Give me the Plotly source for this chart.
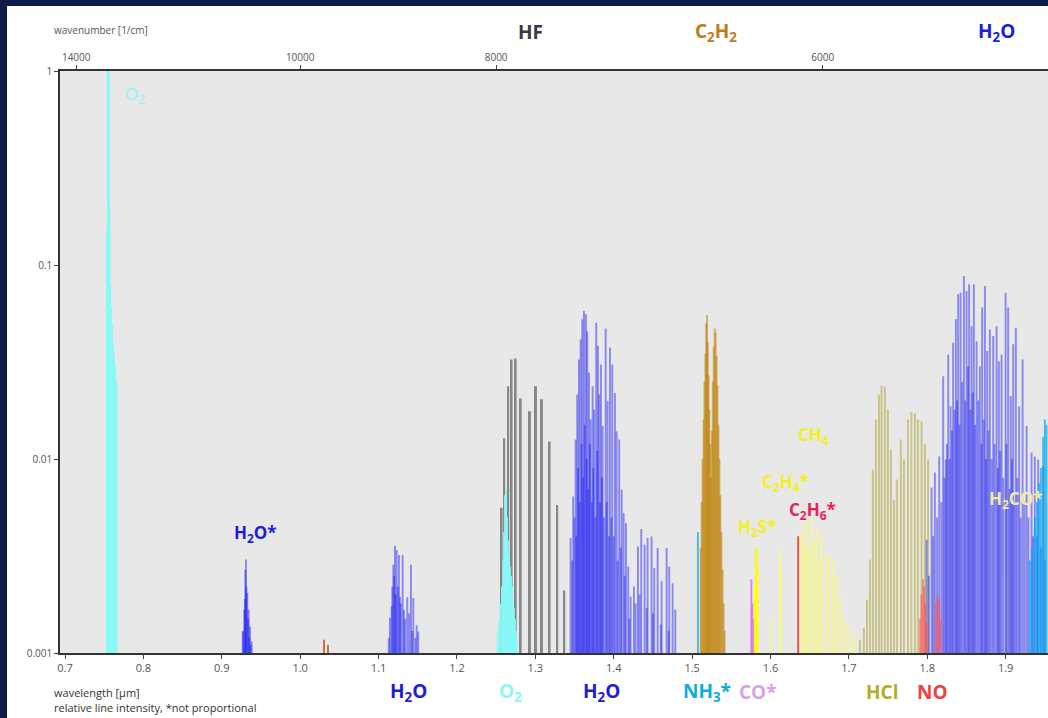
import plotly.graph_objects as go

# ---------------- data (wavelength in µm, relative line intensity) ----------------
o2a_wl = [0.7545, 0.7553, 0.7560, 0.7568, 0.7577, 0.7587, 0.7598, 0.7610, 0.7624, 0.7640, 0.7655]
o2a_int = [0.15, 1.3, 1.2, 0.2, 0.08, 0.06, 0.05, 0.04, 0.035, 0.03, 0.025]

h2o_a_wl = [0.9267, 0.9275, 0.9287, 0.9295, 0.9300, 0.9309, 0.9315, 0.9325, 0.9335, 0.9343, 0.9350, 0.9360, 0.9370, 0.9381]
h2o_a_int = [0.00129, 0.0013, 0.00167, 0.0019, 0.00269, 0.00303, 0.0022, 0.00204, 0.0015, 0.00167, 0.0012, 0.00137, 0.0011, 0.00115]

misc_wl = [1.0304, 1.0355]
misc_int = [0.00117, 0.0011]

h2o_b_wl = [1.1130, 1.1145, 1.1167, 1.1175, 1.1188, 1.1200, 1.1209, 1.1220, 1.1231, 1.1245, 1.1260, 1.1273,
            1.1285, 1.1307, 1.1324, 1.1340, 1.1366, 1.1390, 1.1413, 1.1430, 1.1443, 1.1470, 1.1486, 1.1506]
h2o_b_int = [0.0012, 0.00152, 0.00174, 0.0022, 0.00285, 0.0025, 0.00357, 0.002, 0.0034, 0.0022, 0.0032, 0.00195,
             0.0018, 0.0032, 0.00167, 0.0015, 0.00194, 0.0016, 0.00285, 0.0013, 0.00192, 0.0012, 0.00139, 0.00129]

hf_wl = [1.2570, 1.2603, 1.2654, 1.2697, 1.2749, 1.2813, 1.2931, 1.3008, 1.3084, 1.3182, 1.3279, 1.3369]
hf_int = [0.0056, 0.0128, 0.0237, 0.0326, 0.0330, 0.0205, 0.0176, 0.0237, 0.0203, 0.0123, 0.0058, 0.0021]

o2b_wl = [1.2523, 1.2540, 1.2556, 1.2574, 1.2590, 1.2600, 1.2612, 1.2625, 1.2638, 1.2651, 1.2664, 1.2676,
          1.2690, 1.2702, 1.2715, 1.2727, 1.2740, 1.2753, 1.2766]
o2b_int = [0.0013, 0.0015, 0.0018, 0.0022, 0.0030, 0.0042, 0.0065, 0.0070, 0.0050, 0.0038, 0.0032, 0.0028,
           0.0025, 0.0022, 0.0019, 0.0017, 0.0015, 0.0013, 0.0012]

h2o_c_wl = [1.3450, 1.3470, 1.3483, 1.3500, 1.3514, 1.3525, 1.3534, 1.3545, 1.3556, 1.3567, 1.3578, 1.3590,
            1.3598, 1.3610, 1.3620, 1.3630, 1.3645, 1.3655, 1.3662, 1.3675, 1.3684, 1.3695, 1.3705, 1.3720,
            1.3731, 1.3740, 1.3751, 1.3765, 1.3777, 1.3790, 1.3798, 1.3815, 1.3825, 1.3837, 1.3850, 1.3858,
            1.3875, 1.3897, 1.3910, 1.3922, 1.3940, 1.3952, 1.3970, 1.3981, 1.4000, 1.4015, 1.4037, 1.4050,
            1.4070, 1.4090, 1.4101, 1.4126, 1.4140, 1.4156, 1.4185, 1.4200, 1.4216, 1.4258, 1.4280, 1.4309,
            1.4330, 1.4351, 1.4394, 1.4420, 1.4432, 1.4483, 1.4500, 1.4517, 1.4560, 1.4600, 1.4611, 1.4675,
            1.4700, 1.4708, 1.4751, 1.4785]
h2o_c_int = [0.00392, 0.003, 0.00641, 0.005, 0.0126, 0.004, 0.0215, 0.009, 0.0326, 0.006, 0.0413, 0.012,
             0.0525, 0.008, 0.0579, 0.015, 0.0557, 0.010, 0.0456, 0.007, 0.0278, 0.012, 0.0160, 0.006,
             0.0237, 0.009, 0.0180, 0.005, 0.0504, 0.011, 0.0382, 0.0215, 0.006, 0.0307, 0.008, 0.0148,
             0.005, 0.0470, 0.006, 0.0199, 0.004, 0.0375, 0.005, 0.0307, 0.004, 0.0219, 0.0139, 0.003,
             0.0126, 0.0035, 0.00695, 0.00527, 0.0025, 0.00468, 0.00279, 0.0015, 0.00195, 0.0022, 0.0018, 0.00354,
             0.002, 0.00436, 0.00361, 0.0017, 0.00392, 0.00399, 0.0016, 0.00274, 0.00348, 0.0014, 0.00234, 0.00348,
             0.0013, 0.00279, 0.00229, 0.00167]

c2h2_wl = [1.5110, 1.5122, 1.5134, 1.5146, 1.5158, 1.5170, 1.5180, 1.5190, 1.5200, 1.5210, 1.5220, 1.5230,
           1.5240, 1.5252, 1.5264, 1.5276, 1.5288, 1.5300, 1.5312, 1.5324, 1.5336, 1.5348, 1.5360, 1.5374,
           1.5388, 1.5402, 1.5416]
c2h2_int = [0.0035, 0.006, 0.010, 0.016, 0.025, 0.035, 0.050, 0.055, 0.040, 0.027, 0.018, 0.012,
            0.008, 0.014, 0.025, 0.038, 0.047, 0.045, 0.034, 0.024, 0.015, 0.010, 0.0065, 0.0042,
            0.0027, 0.0018, 0.0013]

nh3_wl = [1.5074, 1.9309, 1.9335, 1.9372, 1.9400, 1.9427, 1.9450, 1.9478, 1.9500, 1.9521]
nh3_int = [0.0042, 0.003, 0.0035, 0.005, 0.006, 0.0075, 0.009, 0.013, 0.016, 0.015]

co_wl = [1.5755, 1.5768, 1.5785]
co_int = [0.0024, 0.0018, 0.0015]

h2s_wl = [1.5800, 1.5815, 1.5823, 1.5832]
h2s_int = [0.0022, 0.0035, 0.0034, 0.0028]

ch4_wl = [1.6000, 1.6120, 1.6135, 1.6375, 1.6417, 1.6440, 1.6460, 1.6505, 1.6524, 1.6565, 1.6588,
          1.6630, 1.6652, 1.6716, 1.6760, 1.6800, 1.6843, 1.6885, 1.6930, 1.6980, 1.7030, 1.7080, 1.9032]
ch4_int = [0.0015, 0.0034, 0.0028, 0.00417, 0.00449, 0.0036, 0.00468, 0.0035, 0.00506, 0.0038, 0.00442,
           0.0030, 0.00399, 0.00329, 0.00315, 0.00297, 0.00248, 0.00195, 0.0016, 0.0014, 0.0013, 0.0012, 0.00259]

c2h6_wl = [1.6353]
c2h6_int = [0.0040]

hcl_wl = [1.7140, 1.7191, 1.7230, 1.7268, 1.7306, 1.7344, 1.7383, 1.7417, 1.7459, 1.7497, 1.7536, 1.7574,
          1.7612, 1.7663, 1.7702, 1.7753, 1.7797, 1.7842, 1.7880, 1.7927, 1.7969, 1.8011]
hcl_int = [0.00117, 0.00135, 0.00188, 0.00303, 0.00881, 0.0160, 0.0215, 0.0239, 0.0236, 0.0180, 0.0112, 0.00617,
           0.00783, 0.0126, 0.00993, 0.0160, 0.0174, 0.0172, 0.0160, 0.0156, 0.0119, 0.00993]

h2o_d_wl = [1.7991, 1.8020, 1.8055, 1.8075, 1.8097, 1.8125, 1.8152, 1.8180, 1.8203, 1.8220, 1.8237, 1.8250,
            1.8267, 1.8285, 1.8297, 1.8315, 1.8330, 1.8350, 1.8365, 1.8380, 1.8394, 1.8410, 1.8425, 1.8445,
            1.8467, 1.8485, 1.8501, 1.8520, 1.8534, 1.8550, 1.8565, 1.8580, 1.8594, 1.8610, 1.8629, 1.8650,
            1.8671, 1.8690, 1.8700, 1.8720, 1.8735, 1.8750, 1.8764, 1.8780, 1.8798, 1.8820, 1.8841, 1.8860,
            1.8884, 1.8900, 1.8913, 1.8930, 1.8948, 1.8970, 1.8999, 1.9010, 1.9032, 1.9050, 1.9066, 1.9080,
            1.9096, 1.9110, 1.9130, 1.9150, 1.9172, 1.9190, 1.9216, 1.9240, 1.9267, 1.9290, 1.9330, 1.9350,
            1.9372, 1.9400, 1.9415, 1.9450, 1.9478, 1.9500]
h2o_d_int = [0.00384, 0.0025, 0.00712, 0.004, 0.00851, 0.005, 0.0103, 0.006, 0.0267, 0.008, 0.00993, 0.012,
             0.0346, 0.010, 0.0187, 0.014, 0.0397, 0.018, 0.0525, 0.020, 0.0706, 0.015, 0.0720, 0.025,
             0.0877, 0.020, 0.0734, 0.030, 0.0795, 0.018, 0.0484, 0.022, 0.0795, 0.015, 0.0405, 0.020,
             0.0301, 0.012, 0.0603, 0.016, 0.0779, 0.010, 0.0360, 0.014, 0.0466, 0.010, 0.0430, 0.012,
             0.0484, 0.009, 0.0319, 0.011, 0.0346, 0.008, 0.0720, 0.012, 0.0603, 0.007, 0.0211, 0.010,
             0.0390, 0.006, 0.0475, 0.008, 0.0187, 0.005, 0.0326, 0.006, 0.0148, 0.005, 0.0108, 0.004,
             0.0103, 0.004, 0.00993, 0.0035, 0.00917, 0.003]

no_wl = [1.7905, 1.7925, 1.7945, 1.7960, 1.7975, 1.7990, 1.8110, 1.8130, 1.8150, 1.8170]
no_int = [0.0015, 0.0020, 0.0024, 0.0022, 0.0018, 0.0014, 0.0018, 0.0020, 0.0019, 0.0015]

x_ticks = [0.7, 0.8, 0.9, 1.0, 1.1, 1.2, 1.3, 1.4, 1.5, 1.6, 1.7, 1.8, 1.9]
x_ticktext = ["0.7", "0.8", "0.9", "1.0", "1.1", "1.2", "1.3", "1.4", "1.5", "1.6", "1.7", "1.8", "1.9"]
wn_ticks = [14000, 10000, 8000, 6000]
y_ticks = [0.001, 0.01, 0.1, 1]
y_ticktext = ["0.001", "0.01", "0.1", "1"]

# ---------------- figure ----------------
W, H = 1048, 718
ML, MR, MT, MB = 60, 0, 71, 65
PW, PH = W - ML - MR, H - MT - MB


def pp(px, py):
    return (px - ML) / PW, (H - MB - py) / PH


BAR_W = 0.0025
series = [
    (hf_wl, hf_int, "rgba(135,135,135,1)", "x"),
    (hcl_wl, hcl_int, "rgba(170,160,40,0.5)", "x"),
    (ch4_wl, ch4_int, "rgba(255,255,90,0.55)", "x"),
    (h2o_a_wl, h2o_a_int, "rgba(25,25,245,0.45)", "x"),
    (h2o_b_wl, h2o_b_int, "rgba(25,25,245,0.45)", "x"),
    (h2o_c_wl, h2o_c_int, "rgba(25,25,245,0.45)", "x"),
    (h2o_d_wl, h2o_d_int, "rgba(25,25,245,0.45)", "x"),
    (o2a_wl, o2a_int, "rgba(135,250,248,1)", "x"),
    (o2b_wl, o2b_int, "rgba(135,250,248,0.9)", "x"),
    (c2h2_wl, c2h2_int, "rgba(190,125,0,0.55)", "x"),
    (nh3_wl, nh3_int, "rgba(0,170,240,0.7)", "x"),
    (co_wl, co_int, "rgba(220,120,235,0.85)", "x"),
    (h2s_wl, h2s_int, "rgba(255,255,0,0.9)", "x"),
    (c2h6_wl, c2h6_int, "rgba(230,50,80,0.85)", "x"),
    (no_wl, no_int, "rgba(255,80,80,0.55)", "x"),
    (misc_wl, misc_int, "rgba(200,100,50,0.9)", "x2"),
]

fig = go.Figure()
for wl, inten, col, xa in series:
    fig.add_trace(go.Bar(x=wl, y=inten, width=BAR_W, xaxis=xa,
                         marker=dict(color=col, line=dict(width=0)),
                         hoverinfo="skip", showlegend=False))

XR = [0.6936, 1.954]
FONT = "Open Sans, Lato, sans-serif"
fig.update_layout(
    width=W, height=H, margin=dict(l=ML, r=MR, t=MT, b=MB),
    paper_bgcolor="white", plot_bgcolor="#e8e8e8",
    barmode="overlay", showlegend=False,
    font=dict(family=FONT, color="#444"),
    xaxis=dict(range=XR, tickvals=x_ticks, ticktext=x_ticktext, ticks="outside", ticklen=4,
               tickcolor="#444", showline=True, linecolor="#333", linewidth=1.5, showgrid=False,
               zeroline=False, tickfont=dict(size=11, color="#555")),
    xaxis2=dict(range=XR, overlaying="x", side="top", anchor="y",
                tickvals=[1e4 / w for w in wn_ticks], ticktext=[str(w) for w in wn_ticks],
                ticks="outside", ticklen=4, tickcolor="#444", showline=True, linecolor="#333",
                linewidth=1.5, showgrid=False, zeroline=False, tickfont=dict(size=10, color="#555")),
    yaxis=dict(type="log", range=[-3, 0], tickvals=y_ticks, ticktext=y_ticktext, ticks="outside",
               ticklen=4, tickcolor="#444", showline=True, linecolor="#333", linewidth=1.5,
               showgrid=False, zeroline=False, tickfont=dict(size=10, color="#555")),
)

NAVY = "#101b48"
x0, _ = pp(0, 0)
x7, _ = pp(7, 0)
_, ytop = pp(0, 0)
_, ytop6 = pp(0, 6)
_, ybot = pp(0, H)
fig.add_shape(type="rect", xref="paper", yref="paper", x0=x0, x1=x7, y0=ybot, y1=ytop,
              fillcolor=NAVY, line=dict(width=0), layer="above")
fig.add_shape(type="rect", xref="paper", yref="paper", x0=x0, x1=1.01, y0=ytop6, y1=ytop,
              fillcolor=NAVY, line=dict(width=0), layer="above")


def label(text, px, py, color, size=19, bold=True, anchor="center"):
    x, y = pp(px, py)
    fig.add_annotation(text=("<b>%s</b>" % text) if bold else text, x=x, y=y, xref="paper", yref="paper",
                       showarrow=False, xanchor=anchor, yanchor="middle",
                       font=dict(size=size, color=color, family=FONT))


BLUE = "#1c1cdc"
YEL = "#f2f21c"
label("HF", 530, 32, "#3a3a3a")
label("C<sub>2</sub>H<sub>2</sub>", 716, 32, "#c27a16")
label("H<sub>2</sub>O", 996, 32, BLUE)
label("wavenumber [1/cm]", 52, 30, "#555", size=10, bold=False, anchor="left")
label("wavelength [µm]", 52, 692, "#333", size=11, bold=False, anchor="left")
label("relative line intensity, *not proportional", 52, 707, "#333", size=11, bold=False, anchor="left")
label("H<sub>2</sub>O", 408, 692, BLUE)
label("O<sub>2</sub>", 510, 692, "#8ef5f5")
label("H<sub>2</sub>O", 601, 692, BLUE)
label("NH<sub>3</sub>*", 707, 692, "#14a8e6")
label("CO*", 758, 692, "#d8a0ec")
label("HCl", 882, 692, "#b5ad22")
label("NO", 932, 692, "#f0403c")
label("O<sub>2</sub>", 135, 95, "#8ef5f5", size=17, bold=False)
label("H<sub>2</sub>O*", 255, 533, BLUE, size=17)
label("CH<sub>4</sub>", 813, 435, YEL, size=17)
label("C<sub>2</sub>H<sub>4</sub>*", 785, 483, YEL, size=17)
label("C<sub>2</sub>H<sub>6</sub>*", 812, 510, "#e8205e", size=17)
label("H<sub>2</sub>S*", 757, 527, YEL, size=17)
label("H<sub>2</sub>CO*", 1015, 499, "#f0ec9a", size=17)

fig.write_html("out.html", config={"displayModeBar": False},
               post_script="document.body.style.margin='0';document.body.style.background='#101b48';")
